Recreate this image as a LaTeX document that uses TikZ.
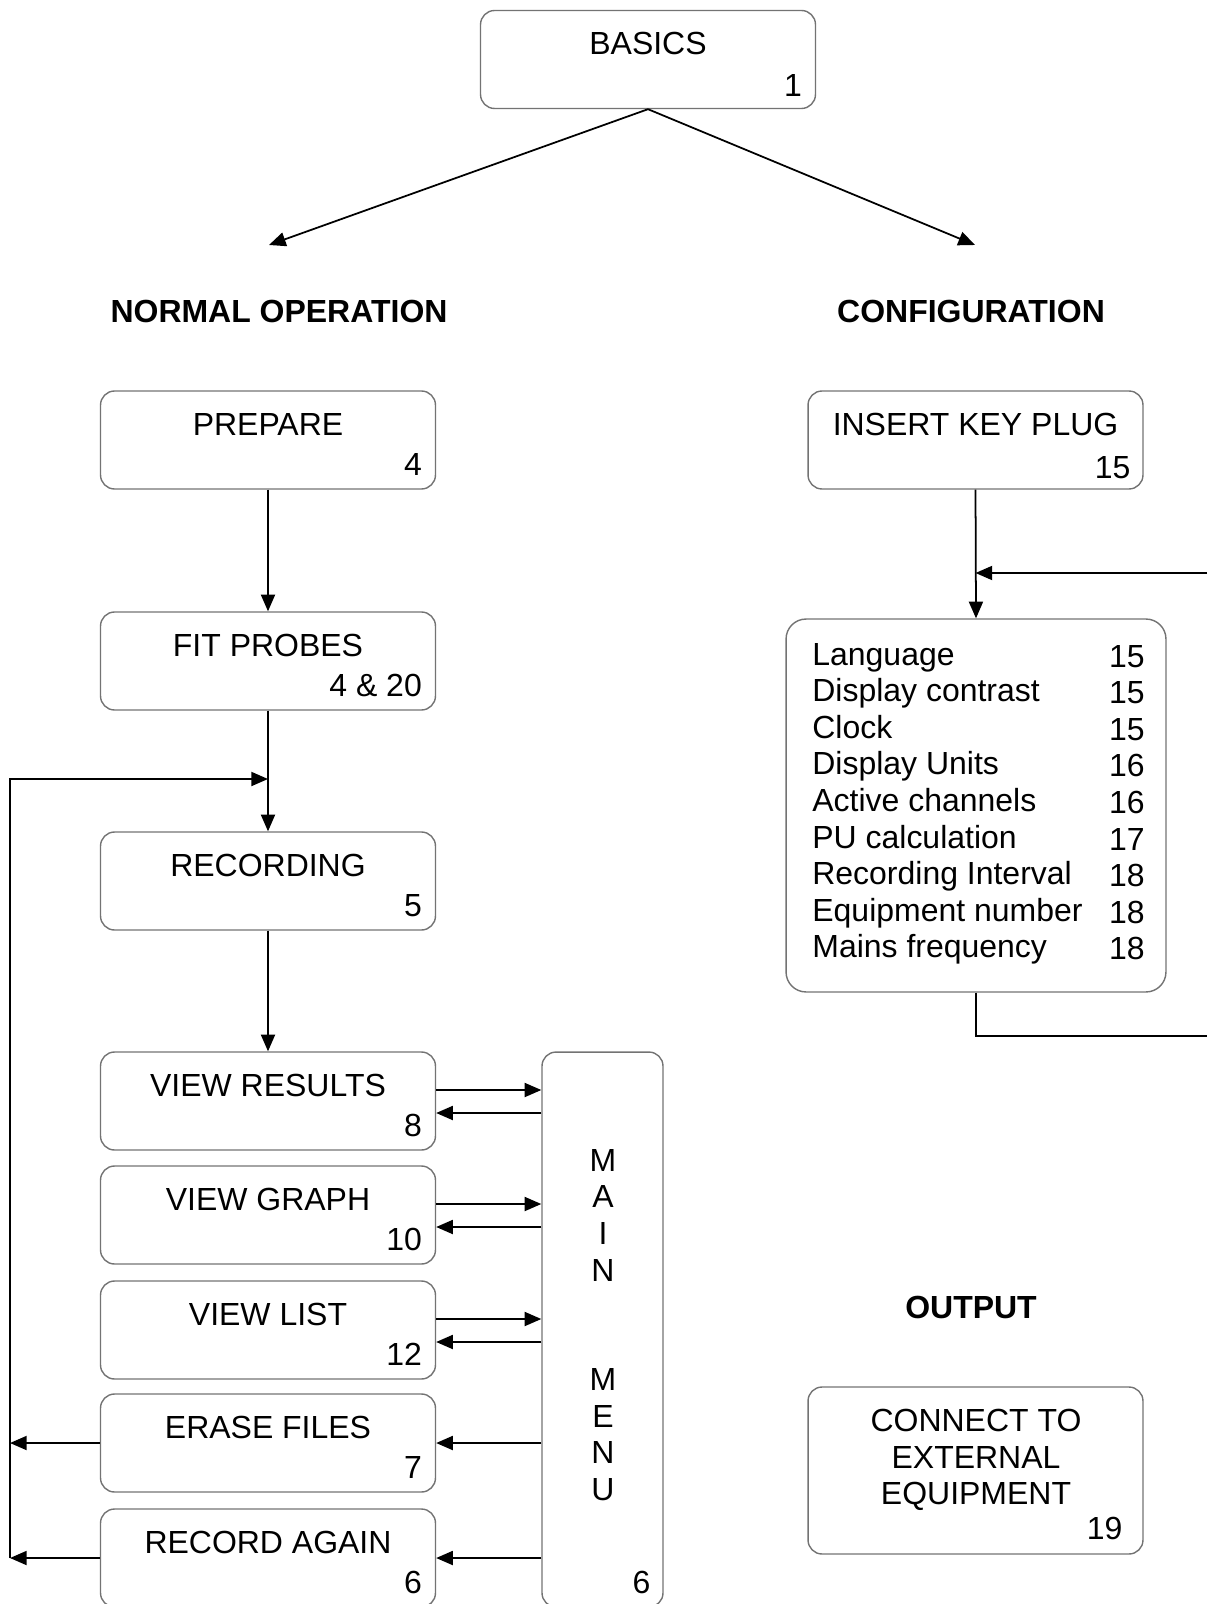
\documentclass[tikz,border=0pt]{standalone}
\usepackage{fontspec}
\setmainfont{Liberation Sans}
\usetikzlibrary{
    arrows.meta,  % For the triangle arrow tips
    positioning,  % For relative placement of nodes
    calc          % For offsets from box corners
}

\begin{document}
\begin{tikzpicture}[
    x=0.02cm, y=-0.02cm,
    font=\fontsize{18.2}{20.8}\selectfont,
    arrow/.style={-{Triangle[length=9.5pt,width=8pt]}, line width=1pt},
    chapbox/.style={
        draw=black!55,
        line width=0.8pt,
        rounded corners=0.28cm,
        minimum width=6.7cm,
        minimum height=1.96cm,
        inner sep=0pt
    },
    pagenum/.style={anchor=base east, inner sep=0pt},
    heading/.style={font=\fontsize{18.2}{20.8}\selectfont\bfseries}
]
    \useasboundingbox (0,0) rectangle (1207,1604);

    % --- Top of the chart ---
    \node[chapbox] (basics) at (648,59.5) {};
    \node[anchor=base] (basics-t) at ($(basics.north)+(0,45)$) {BASICS};
    \node[pagenum] (basics-n) at ($(basics.south east)+(-14,-13)$) {1};

    \coordinate (normtip) at (269,245);
    \coordinate (conftip) at (975,245);
    \draw[arrow] (basics.south) -- (normtip);
    \draw[arrow] (basics.south) -- (conftip);

    \node[heading] (normal) at (279,311) {NORMAL OPERATION};
    \node[heading] (config) at (971,311) {CONFIGURATION};
    \node[heading] (output) at (971,1307) {OUTPUT};

    % --- Normal operation column ---
    \foreach \nm/\yy/\ttl/\num in {prep/440/PREPARE/4, fit/661/FIT PROBES/4 \& 20,
        rec/881/RECORDING/5, vres/1101/VIEW RESULTS/8, vgr/1215/VIEW GRAPH/10,
        vlist/1330/VIEW LIST/12, erase/1443/ERASE FILES/7, again/1558/RECORD AGAIN/6} {
        \node[chapbox] (\nm) at (268,\yy) {};
        \node[anchor=base] (\nm-t) at ($(\nm.north)+(0,45)$) {\ttl};
        \node[pagenum] (\nm-n) at ($(\nm.south east)+(-14,-14)$) {\num};
    }

    \draw[arrow] (prep.south) -- (fit.north);
    \draw[arrow] (fit.south) -- (rec.north);
    \draw[arrow] (rec.south) -- (vres.north);

    % --- Main menu ---
    \node[chapbox, minimum width=2.42cm, minimum height=11.1cm] (menu) at (602.5,1329.5) {};
    \node[align=center] (menu-t) at (603,1325) {M\\A\\I\\N\\[41.6pt]M\\E\\N\\U};
    \node[pagenum] (menu-n) at ($(menu.south east)+(-13,-14)$) {6};

    \foreach \nm in {vres,vgr,vlist} {
        \draw[arrow] ([yshift=0.22cm]\nm.east) -- ([yshift=0.22cm]menu.west |- \nm.east);
        \draw[arrow] ([yshift=-0.24cm]menu.west |- \nm.east) -- ([yshift=-0.24cm]\nm.east);
    }
    \foreach \nm in {erase,again}
        \draw[arrow] (menu.west |- \nm.east) -- (\nm.east);

    % loop back to recording
    \coordinate (back) at (10,779);
    \draw[arrow] (erase.west) -- (erase.west -| back);
    \draw[arrow] (again.west) -- (again.west -| back);
    \draw[arrow] (again.west -| back) -- (back) -- (back -| fit.south);

    % --- Configuration column ---
    \node[chapbox] (plug) at (975.5,440) {};
    \node[anchor=base] (plug-t) at ($(plug.north)+(0,45)$) {INSERT KEY PLUG};
    \node[pagenum] (plug-n) at ($(plug.south east)+(-13,-11)$) {15};

    \node[chapbox, minimum width=7.6cm, minimum height=7.46cm, rounded corners=0.4cm] (setup) at (976,805.5) {};
    \foreach \itm/\pg [count=\i from 0] in {Language/15, Display contrast/15, Clock/15,
        Display Units/16, Active channels/16, PU calculation/17,
        Recording Interval/18, Equipment number/18, Mains frequency/18} {
        \node[anchor=base west, inner sep=0pt] (item\i) at (812,665+36.6*\i) {\itm};
        \node[pagenum] (page\i) at (1145,667+36.6*\i) {\pg};
    }

    \coordinate (setin) at (1207,573);
    \coordinate (setout) at (1207,1036);
    \draw[arrow] (plug.south) -- (setup.north);
    \draw[arrow] (setin) -- (setin -| plug.south);
    \draw[line width=1pt] (setup.south) |- (setout);

    % --- Output ---
    \node[chapbox, minimum height=3.34cm] (ext) at (975.5,1470.5) {};
    \node[align=center] (ext-t) at (976,1460) {CONNECT TO\\EXTERNAL\\EQUIPMENT};
    \node[pagenum] (ext-n) at ($(ext.south east)+(-21,-15)$) {19};

\end{tikzpicture}
\end{document}
